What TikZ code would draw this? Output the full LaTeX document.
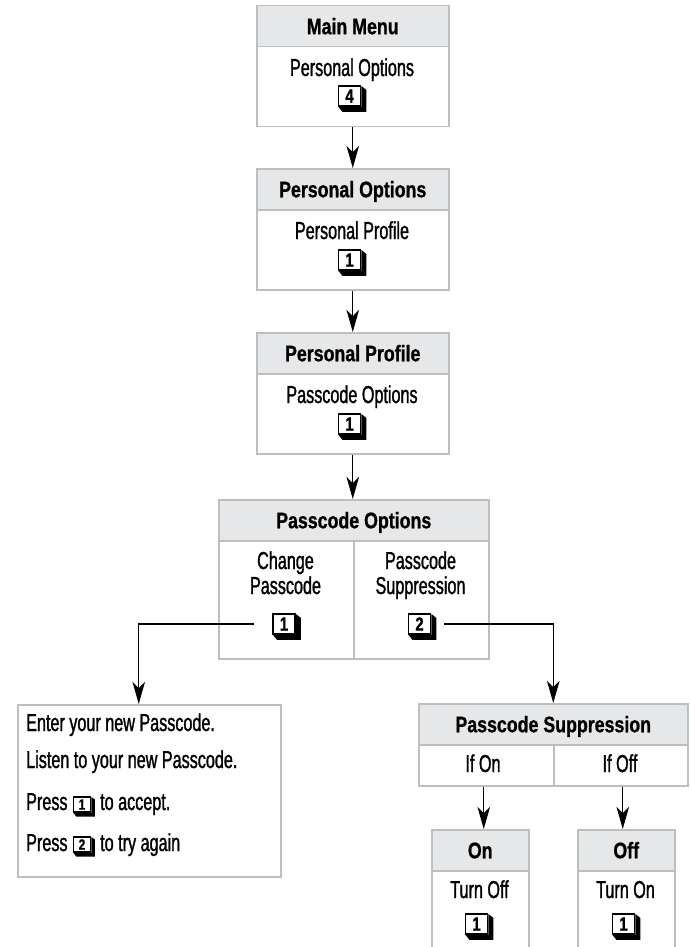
\documentclass[tikz,border=0pt]{standalone}
\usepackage{fontspec}
\newfontfamily\bodyf{Liberation Sans}[FakeStretch=0.66,FakeBold=1.2]
\newfontfamily\headf{Liberation Sans}[FakeStretch=0.79,FakeBold=0.9]
\usetikzlibrary{arrows.meta,calc}
\definecolor{hdrgray}{HTML}{E6E7E8}
\definecolor{bordgray}{HTML}{BCBEC0}
\tikzset{
 hdr/.style={draw=bordgray, line width=1.5pt, fill=hdrgray, anchor=north west, inner sep=0pt, text height=16pt, text depth=0pt, font=\headf\bfseries\fontsize{22.5}{24}\selectfont},
 bod/.style={draw=bordgray, line width=1.5pt, fill=white, anchor=north west, inner sep=0pt},
 txt/.style={inner sep=0pt, anchor=base, font=\bodyf\fontsize{24.5}{27}\selectfont},
 keyf/.style={draw=black, line width=1.9pt, fill=white, inner sep=0pt, minimum width=22pt, minimum height=20pt, font=\headf\bfseries\fontsize{19}{19}\selectfont},
 keys/.style={keyf, line width=1.6pt, minimum width=17pt, minimum height=15.5pt, font=\headf\bfseries\fontsize{15}{15}\selectfont},
 arr/.style={line width=1.4pt, -{Stealth[length=22pt,width=12.5pt,inset=6pt]}},
}
\newcommand\keyshadow[2][5]{%
 \fill[black] ($(#2.north east)+(0,1)$) -- ($(#2.north east)+(#1,#1)$) -- ($(#2.south east)+(#1,#1)$) -- ($(#2.south west)+(#1,#1)$) -- ($(#2.south west)+(1,0)$) -- (#2.south east) -- cycle;}
\begin{document}
\begin{tikzpicture}[x=1pt,y=-1pt]
\useasboundingbox (0,0) rectangle (690,947);
\clip (0,0) rectangle (690,947);
\fill[white] (0,0) rectangle (690,947);
% Box A
\node[hdr, minimum width=192pt, minimum height=41pt] (Ah) at (256,5) {Main Menu};
\node[bod, minimum width=192pt, minimum height=80pt] (Ab) at (256,46) {};
\node[txt] (At) at (352,76) {Personal Options};
\node[keyf] (Ak) at (349.5,96) {4}; \keyshadow{Ak}
% Box B
\node[hdr, minimum width=192pt, minimum height=41pt] (Bh) at (256,168) {Personal Options};
\node[bod, minimum width=192pt, minimum height=80pt] (Bb) at (256,209) {};
\node[txt] (Bt) at (352,239) {Personal Profile};
\node[keyf] (Bk) at (349.5,260) {1}; \keyshadow{Bk}
% Box C
\node[hdr, minimum width=192pt, minimum height=41pt] (Ch) at (256,332) {Personal Profile};
\node[bod, minimum width=192pt, minimum height=80pt] (Cb) at (256,373) {};
\node[txt] (Ct) at (352,403) {Passcode Options};
\node[keyf] (Ck) at (349.5,424) {1}; \keyshadow{Ck}
% Box D
\node[hdr, minimum width=270pt, minimum height=41pt] (Dh) at (218,499) {Passcode Options};
\node[bod, minimum width=135pt, minimum height=118pt] (Dl) at (218,540) {};
\node[bod, minimum width=135pt, minimum height=118pt] (Dr) at (353,540) {};
\node[txt] (Dl1) at (285.5,569) {Change};
\node[txt] (Dl2) at (285.5,594) {Passcode};
\node[txt] (Dr1) at (420.5,569) {Passcode};
\node[txt] (Dr2) at (420.5,594) {Suppression};
\node[keyf] (D1) at (284,624) {1}; \keyshadow{D1}
\node[keyf] (D2) at (419.5,624) {2}; \keyshadow{D2}
% Box E
\node[bod, minimum width=263pt, minimum height=172pt] (E) at (17,704) {};
\node[txt, anchor=base west] (E1) at (26,731) {Enter your new Passcode.};
\node[txt, anchor=base west] (E2) at (26,768) {Listen to your new Passcode.};
\node[txt, anchor=base west] (E3) at (26,810) {Press};
\node[keys] (E3k) at (82,804.5) {1}; \keyshadow[3.5]{E3k}
\node[txt, anchor=base west] (E3b) at (100,810) {to accept.};
\node[txt, anchor=base west] (E4) at (26,851) {Press};
\node[keys] (E4k) at (82,844.5) {2}; \keyshadow[3.5]{E4k}
\node[txt, anchor=base west] (E4b) at (100,851) {to try again};
% Box F
\node[hdr, minimum width=269pt, minimum height=41pt] (Fh) at (418,703) {Passcode Suppression};
\node[bod, minimum width=135pt, minimum height=41pt] (Fl) at (418,744) {};
\node[bod, minimum width=134pt, minimum height=41pt] (Fr) at (553,744) {};
\node[txt] (Flt) at (483,772) {If On};
\node[txt] (Frt) at (620,772) {If Off};
% Box G
\node[hdr, minimum width=97pt, minimum height=41pt] (Gh) at (431,829) {On};
\node[bod, minimum width=97pt, minimum height=110pt] (Gb) at (431,870) {};
\node[txt] (Gt) at (479.5,898) {Turn Off};
\node[keyf] (Gk) at (476.5,924) {1}; \keyshadow{Gk}
% Box H
\node[hdr, minimum width=97pt, minimum height=41pt] (Hh) at (577,829) {Off};
\node[bod, minimum width=97pt, minimum height=110pt] (Hb) at (577,870) {};
\node[txt] (Ht) at (625.5,898) {Turn On};
\node[keyf] (Hk) at (623.5,924) {1}; \keyshadow{Hk}
% connectors
\draw[arr] (Ab.south) -- (Bh.north);
\draw[arr] (Bb.south) -- (Ch.north);
\draw[arr] (Cb.south) -- (Cb.south |- Dh.north);
\coordinate (s1) at ($(D1.west)+(-18,0)$);
\draw[arr] (s1) -| ([xshift=-10.5pt]E.north);
\coordinate (s2) at ($(D2.east)+(13,0)$);
\draw[arr] (s2) -| (Fh.north);
\draw[arr] ([xshift=-2.5pt]Fl.south) -- ([xshift=-2.5pt]Fl.south |- Gh.north);
\draw[arr] ([xshift=2pt]Fr.south) -- ([xshift=2pt]Fr.south |- Hh.north);
\end{tikzpicture}
\end{document}
